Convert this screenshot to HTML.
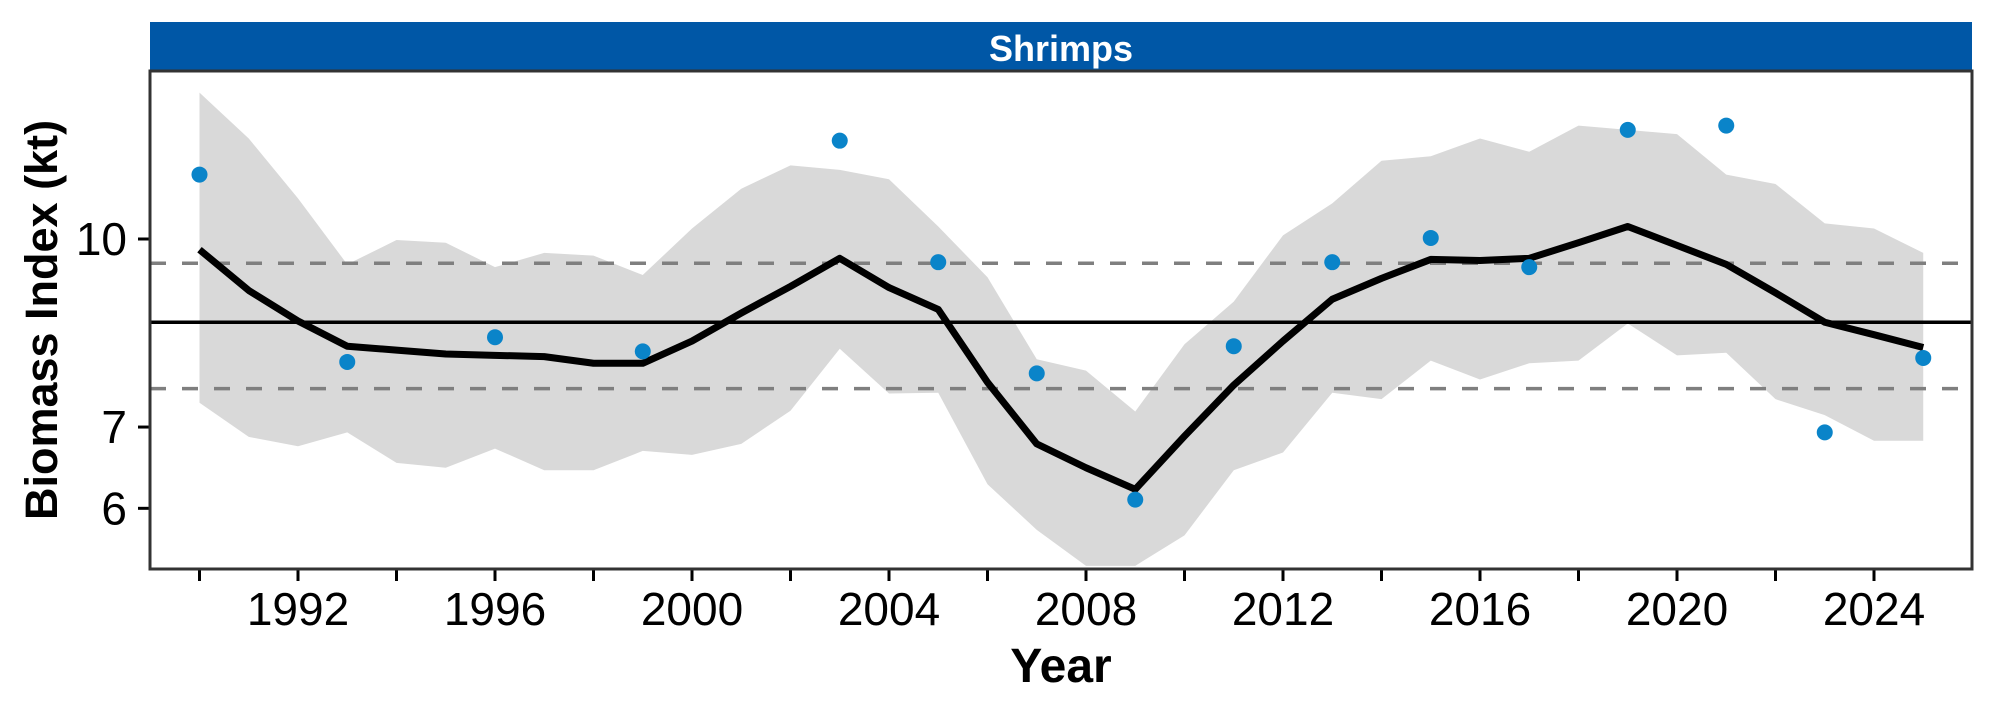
<!DOCTYPE html>
<html><head><meta charset="utf-8"><style>
html,body{margin:0;padding:0;background:#fff;}
svg{display:block;font-family:"Liberation Sans",Arial,sans-serif;}
</style></head><body>
<svg id="chart" width="1996" height="708" viewBox="0 0 1996 708">
<rect x="150" y="22" width="1822" height="49" fill="#0057a6"/>
<text x="1061" y="61" text-anchor="middle" fill="#fff" font-size="36" font-weight="bold">Shrimps</text>
<g id="plot"></g>
<rect x="150" y="71" width="1822" height="498" fill="none" stroke="#333" stroke-width="3"/>
<text transform="translate(57,320) rotate(-90)" text-anchor="middle" font-size="45" font-weight="bold">Biomass Index (kt)</text>
<text x="1061" y="682" text-anchor="middle" font-size="48" font-weight="bold">Year</text>
</svg>
<script>
const years=[1990,1991,1992,1993,1994,1995,1996,1997,1998,1999,2000,2001,2002,2003,2004,2005,2006,2007,2008,2009,2010,2011,2012,2013,2014,2015,2016,2017,2018,2019,2020,2021,2022,2023,2024,2025];
const fitValues=[9.8,9.07,8.56,8.16,8.1,8.04,8.02,8.0,7.9,7.9,8.24,8.69,9.14,9.64,9.12,8.75,7.62,6.78,6.48,6.22,6.88,7.58,8.24,8.92,9.28,9.62,9.6,9.64,9.93,10.24,9.88,9.53,9.03,8.54,8.34,8.14];
const upperValues=[13.2,12.1,10.8,9.53,9.98,9.93,9.48,9.74,9.69,9.34,10.2,11.0,11.5,11.4,11.2,10.24,9.3,7.96,7.79,7.21,8.19,8.88,10.07,10.7,11.6,11.7,12.1,11.8,12.4,12.3,12.2,11.3,11.1,10.3,10.2,9.74];
const lowerValues=[7.33,6.87,6.75,6.93,6.54,6.48,6.72,6.45,6.45,6.69,6.64,6.78,7.22,8.12,7.46,7.47,6.28,5.76,5.38,5.38,5.7,6.45,6.67,7.47,7.38,7.94,7.66,7.9,7.94,8.52,8.02,8.06,7.38,7.16,6.82,6.82];
const obsYears=[1990,1993,1996,1999,2003,2005,2007,2009,2011,2013,2015,2017,2019,2021,2023,2025];
const obsValues=[11.3,7.92,8.3,8.08,12.05,9.57,7.75,6.1,8.16,9.57,10.02,9.48,12.3,12.4,6.93,7.98];
const meanValue=8.54;
const boundValues=[9.55,7.53];
const yTicks=[6,7,10];
const xTicks=[1990,1992,1994,1996,1998,2000,2002,2004,2006,2008,2010,2012,2014,2016,2018,2020,2022,2024];
const xLabels=[1992,1996,2000,2004,2008,2012,2016,2020,2024];

const NS="http://www.w3.org/2000/svg";
const X=y=>199.5+(y-1990)*49.25;
const Y=v=>239-Math.log10(v/10)*1214;
const g=document.getElementById('plot');
function mk(t,a){const e=document.createElementNS(NS,t);for(const k in a)e.setAttribute(k,a[k]);g.appendChild(e);return e;}

let d=years.map((y,i)=>(i?'L':'M')+X(y)+','+Y(upperValues[i])).join('');
for(let i=years.length-1;i>=0;i--)d+='L'+X(years[i])+','+Y(lowerValues[i]);
const rib=mk('path',{d:d+'Z',fill:'#d9d9d9'});



const mean=mk('line',{x1:150,x2:1972,y1:Y(meanValue),y2:Y(meanValue),stroke:'#000','stroke-width':3.5});


boundValues.forEach((b,i)=>{
 const l=mk('line',{x1:150,x2:1972,y1:Y(b),y2:Y(b),stroke:'#7f7f7f','stroke-width':3.5,'stroke-dasharray':'16,16'});
 
 
});

const fit=mk('path',{d:years.map((y,i)=>(i?'L':'M')+X(y)+','+Y(fitValues[i])).join(''),fill:'none',stroke:'#000','stroke-width':7,'stroke-linejoin':'round'});



obsYears.forEach((y,i)=>{
 const c=mk('circle',{cx:X(y),cy:Y(obsValues[i]),r:8,fill:'#0a84c9'});
 
 
});

yTicks.forEach(v=>{
 const t=mk('line',{x1:138,x2:150,y1:Y(v),y2:Y(v),stroke:'#000','stroke-width':3});
 
 
 const l=mk('text',{x:127,y:Y(v)+16,'text-anchor':'end','font-size':46,fill:'#000'});
 l.textContent=v;
 
 
});
xTicks.forEach(v=>{
 const t=mk('line',{x1:X(v),x2:X(v),y1:569,y2:581,stroke:'#000','stroke-width':3});
 
 
});
xLabels.forEach(v=>{
 const l=mk('text',{x:X(v),y:625,'text-anchor':'middle','font-size':46,fill:'#000'});
 l.textContent=v;
 
 
});
</script>
</body></html>
